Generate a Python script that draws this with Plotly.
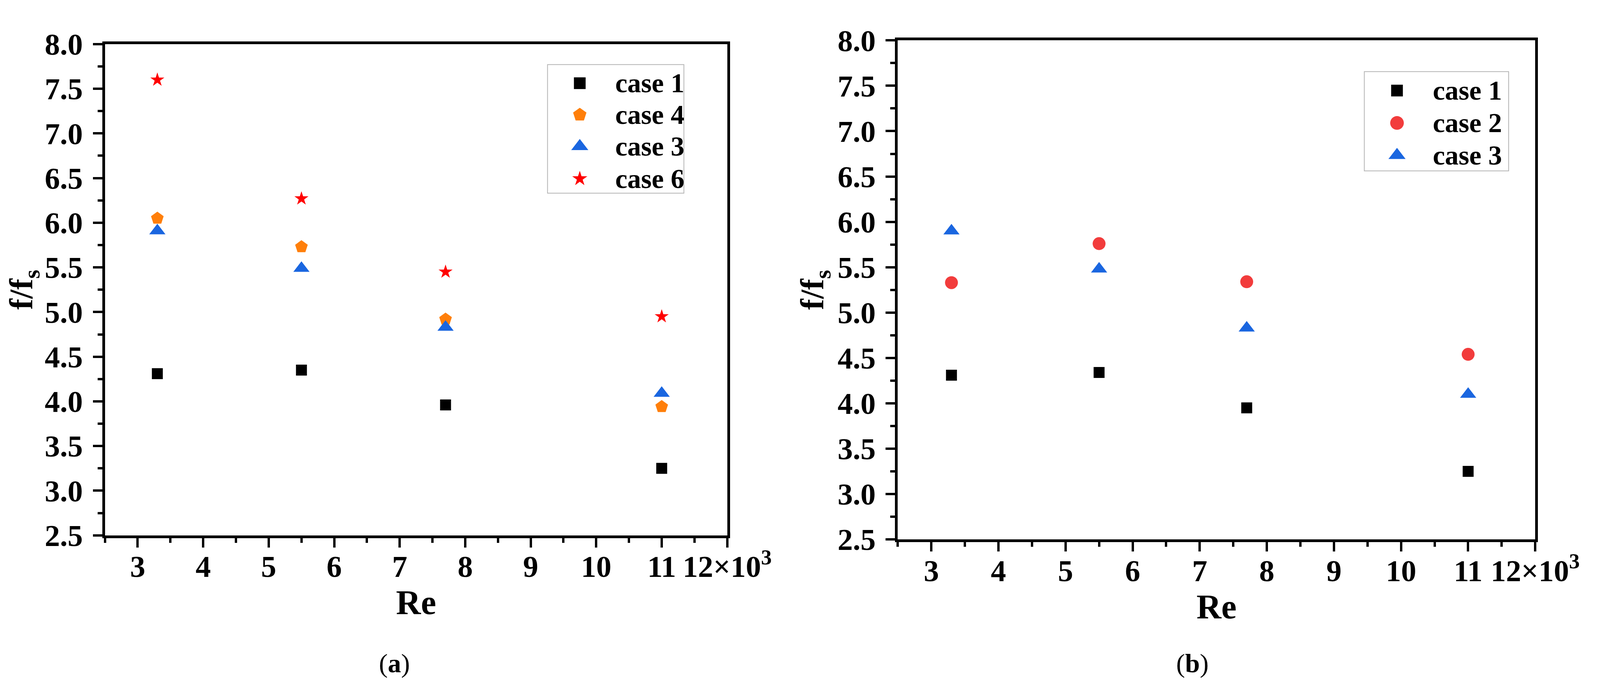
import plotly.graph_objects as go

# ---------------- data ----------------
re_vals = [3.3, 5.5, 7.7, 11.0]          # Re (x10^3)

a_case1 = [4.31, 4.35, 3.96, 3.25]
a_case4 = [6.05, 5.73, 4.92, 3.94]
a_case3 = [5.91, 5.49, 4.83, 4.09]
a_case6 = [7.60, 6.27, 5.45, 4.95]

b_case1 = [4.31, 4.34, 3.95, 3.25]
b_case2 = [5.33, 5.76, 5.34, 4.54]
b_case3 = [5.90, 5.48, 4.83, 4.10]

a_labels = ["case 1", "case 4", "case 3", "case 6"]
b_labels = ["case 1", "case 2", "case 3"]

x_tickvals = [3, 4, 5, 6, 7, 8, 9, 10, 11, 12]
x_ticktext = ["3", "4", "5", "6", "7", "8", "9", "10", "11", "12×10<sup>3</sup>"]
y_tickvals = [2.5, 3.0, 3.5, 4.0, 4.5, 5.0, 5.5, 6.0, 6.5, 7.0, 7.5, 8.0]
y_ticktext = [f"{v:.1f}" for v in y_tickvals]

# ---------------- styles ----------------
W, H = 4151, 1791
FONT = "Liberation Serif"

STY = {
    "square":   dict(symbol="square", color="#000000", size=28),
    "pentagon": dict(symbol="pentagon", color="#FF7F0A", size=34),
    "triangle": dict(symbol="triangle-up", color="#1A66E0", size=36),
    "star":     dict(symbol="star", color="#FF0000", size=27),
    "circle":   dict(symbol="circle", color="#F23C3C", size=33),
}

fig = go.Figure()

def add(x, y, name, sty, xa, ya):
    s = STY[sty]
    fig.add_trace(go.Scatter(
        x=x, y=y, name=name, mode="markers", showlegend=False,
        marker=dict(symbol=s["symbol"], color=s["color"], size=s["size"], line=dict(width=0)),
        xaxis=xa, yaxis=ya, cliponaxis=False,
    ))

add(re_vals, a_case1, a_labels[0], "square", "x", "y")
add(re_vals, a_case4, a_labels[1], "pentagon", "x", "y")
add(re_vals, a_case3, a_labels[2], "triangle", "x", "y")
add(re_vals, a_case6, a_labels[3], "star", "x", "y")

add(re_vals, b_case1, b_labels[0], "square", "x2", "y2")
add(re_vals, b_case2, b_labels[1], "circle", "x2", "y2")
add(re_vals, b_case3, b_labels[2], "triangle", "x2", "y2")

# ---------------- legends (drawn on their own unit axes) ----------------
annotations = []
shapes = []

def legend_box(labels, styles, xa, ya, mx, tx, rows):
    for lab, sty, ry in zip(labels, styles, rows):
        s = STY[sty]
        fig.add_trace(go.Scatter(
            x=[mx], y=[ry], mode="markers", showlegend=False, hoverinfo="skip",
            marker=dict(symbol=s["symbol"], color=s["color"], size=s["size"] + 2, line=dict(width=0)),
            xaxis=xa, yaxis=ya, cliponaxis=False,
        ))
        annotations.append(dict(
            text=f"<b>{lab}</b>", x=tx, y=ry, xref=xa, yref=ya, xanchor="left", yanchor="middle",
            showarrow=False, font=dict(family=FONT, size=70, color="black"),
        ))
    shapes.append(dict(type="rect", xref=xa, yref=ya, x0=0, x1=1, y0=0, y1=1,
                       line=dict(color="#B4B4B4", width=4), fillcolor="white", layer="below"))

legend_box(a_labels, ["square", "pentagon", "triangle", "star"], "x3", "y3",
           0.238, 0.49, [0.853, 0.609, 0.365, 0.115])
legend_box(b_labels, ["square", "circle", "triangle"], "x4", "y4",
           0.228, 0.47, [0.807, 0.483, 0.16])

tickfont = dict(family=FONT, size=78, color="black", weight="bold")

def xaxis(domain, anchor):
    return dict(
        domain=domain, anchor=anchor, range=[2.5, 12],
        tickvals=x_tickvals, ticktext=x_ticktext,
        ticks="outside", ticklen=24, tickwidth=6, tickcolor="black",
        minor=dict(dtick=0.5, tick0=2.5, ticks="outside", ticklen=12, tickwidth=6, tickcolor="black"),
        showline=True, linewidth=7, linecolor="black", mirror=True,
        showgrid=False, zeroline=False, tickfont=tickfont, ticklabelstandoff=-18,
        title=dict(text="<b>Re</b>", font=dict(family=FONT, size=88, color="black"), standoff=0),
    )

def yaxis(domain, anchor):
    return dict(
        domain=domain, anchor=anchor, range=[2.5, 8.0],
        tickvals=y_tickvals, ticktext=y_ticktext,
        ticks="outside", ticklen=24, tickwidth=6, tickcolor="black",
        minor=dict(dtick=0.25, tick0=2.5, ticks="outside", ticklen=12, tickwidth=6, tickcolor="black"),
        showline=True, linewidth=7, linecolor="black", mirror=True,
        showgrid=False, zeroline=False, tickfont=tickfont, ticklabelstandoff=10,
        title=dict(text="<b>f/f<sub>s</sub></b>", font=dict(family=FONT, size=84, color="black"), standoff=10),
    )

def hidden(domain, anchor):
    return dict(domain=domain, anchor=anchor, range=[0, 1], visible=False,
                showgrid=False, zeroline=False, fixedrange=True)

annotations += [
    dict(text="(<b>a</b>)", x=1030 / W, y=1 - 1730 / H, xref="paper", yref="paper",
         xanchor="center", yanchor="middle",
         showarrow=False, font=dict(family=FONT, size=68, color="black")),
    dict(text="(<b>b</b>)", x=3130 / W, y=1 - 1730 / H, xref="paper", yref="paper",
         xanchor="center", yanchor="middle",
         showarrow=False, font=dict(family=FONT, size=68, color="black")),
]

fig.update_layout(
    width=W, height=H, autosize=False,
    margin=dict(l=0, r=0, t=0, b=0),
    paper_bgcolor="white", plot_bgcolor="white",
    showlegend=False,
    xaxis=xaxis([268 / W, 1906 / W], "y"),
    yaxis=yaxis([1 - 1386 / H, 1 - 65 / H], "x"),
    xaxis2=xaxis([2355 / W, 4033 / W], "y2"),
    yaxis2=yaxis([1 - 1397 / H, 1 - 55 / H], "x2"),
    xaxis3=hidden([1432 / W, 1793 / W], "y3"),
    yaxis3=hidden([1 - 467 / H, 1 - 119 / H], "x3"),
    xaxis4=hidden([3582 / W, 3964 / W], "y4"),
    yaxis4=hidden([1 - 407 / H, 1 - 138 / H], "x4"),
    annotations=annotations,
    shapes=shapes,
)

fig.write_html("out.html")
